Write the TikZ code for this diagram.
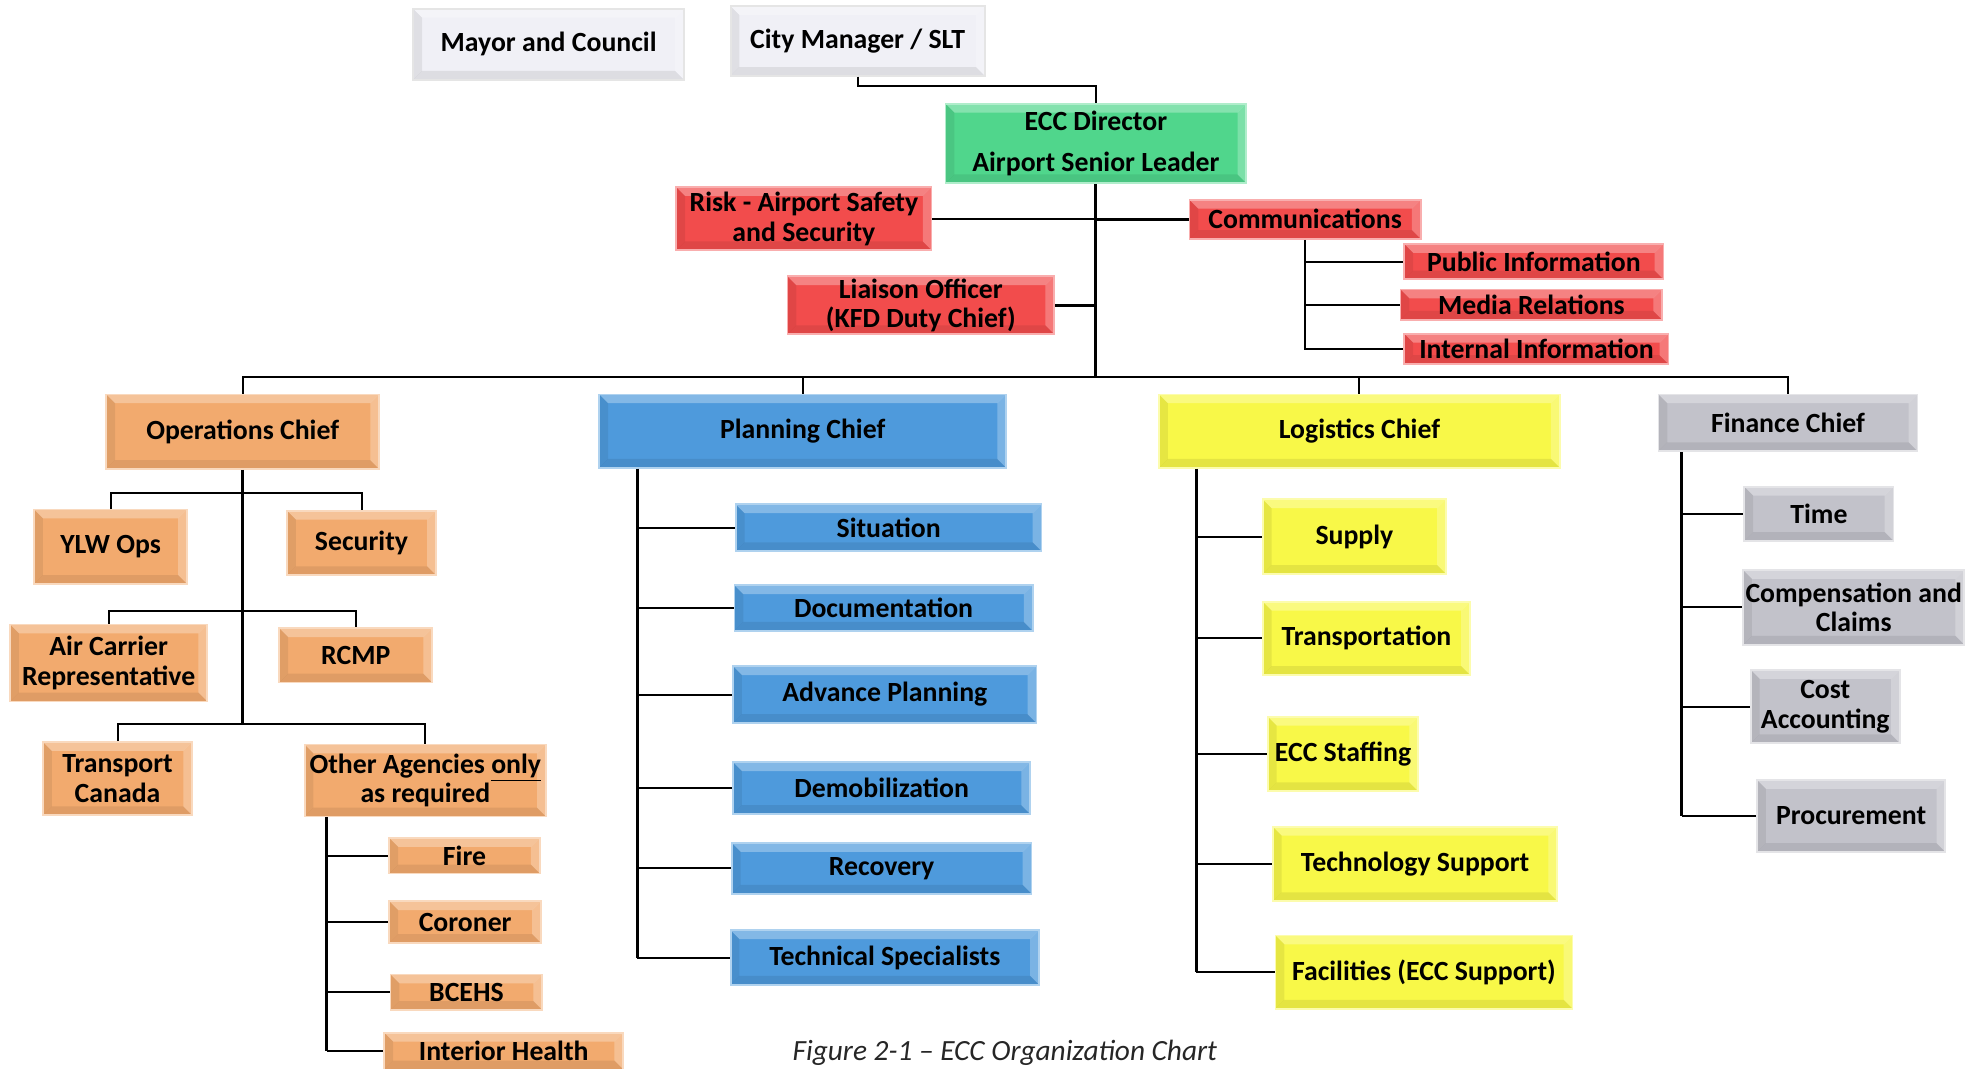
\documentclass[tikz,border=0pt]{standalone}
\usepackage{fontspec}
\setmainfont{Carlito}
\usepackage{tikz}
\usetikzlibrary{positioning,calc}
\usepackage{xcolor}
\definecolor{topc}{RGB}{240,240,246}
\definecolor{greenc}{RGB}{80,214,140}
\definecolor{redc}{RGB}{242,76,76}
\definecolor{orangec}{RGB}{242,170,110}
\definecolor{bluec}{RGB}{78,154,220}
\definecolor{yellowc}{RGB}{248,248,72}
\definecolor{greyc}{RGB}{194,194,202}
\tikzset{
  bevel/.style={
    path picture={
      \fill[white,opacity=.3] (path picture bounding box.north west) -- (path picture bounding box.north east)
        -- ([xshift=-1.4mm,yshift=-1.4mm]path picture bounding box.north east)
        -- ([xshift=1.4mm,yshift=-1.4mm]path picture bounding box.north west) -- cycle;
      \fill[white,opacity=.25] (path picture bounding box.north east) -- (path picture bounding box.south east)
        -- ([xshift=-1.4mm,yshift=1.4mm]path picture bounding box.south east)
        -- ([xshift=-1.4mm,yshift=-1.4mm]path picture bounding box.north east) -- cycle;
      \fill[black,opacity=.08] (path picture bounding box.south west) -- (path picture bounding box.south east)
        -- ([xshift=-1.4mm,yshift=1.4mm]path picture bounding box.south east)
        -- ([xshift=1.4mm,yshift=1.4mm]path picture bounding box.south west) -- cycle;
      \fill[black,opacity=.07] (path picture bounding box.north west) -- (path picture bounding box.south west)
        -- ([xshift=1.4mm,yshift=1.4mm]path picture bounding box.south west)
        -- ([xshift=1.4mm,yshift=-1.4mm]path picture bounding box.north west) -- cycle;
    }
  },
  box/.style={draw=#1!45!white, fill=#1, line width=.8pt, bevel, align=center,
    inner sep=1pt, font=\fontsize{12.5}{13.3}\selectfont\bfseries},
  wh/.style 2 args={minimum width=#1*0.2mm, minimum height=#2*0.2mm},
}

\begin{document}
\begin{tikzpicture}[
  x=0.2mm, y=-0.2mm,
  conn/.style={draw, line width=.9pt},
  trunk/.style={draw, line width=1.3pt}
]
\useasboundingbox (0,0) rectangle (1568,845);

% top of the chart
\node[box=topc, draw=black!10, wh={214}{56}] (mayor) at (434,35) {Mayor and Council};
\node[box=topc, draw=black!10, wh={201}{55}] (city) at (678.5,32.5) {City Manager / SLT};
\node[box=greenc, wh={238}{63}] (ecc) at (867,113.5) {ECC Director\\[5pt]Airport Senior Leader};
\node[box=redc, wh={202}{50}] (risk) at (636,173) {Risk - Airport Safety\\and Security};
\node[box=redc, wh={183}{31}] (comm) at (1032.5,173.5) {Communications};
\node[box=redc, wh={211}{43}] (liaison) at (728.5,241.5) {Liaison Officer\\(KFD Duty Chief)};
\node[box=redc, wh={205}{28}] (pubinfo) at (1213.5,207) {Public Information};
\node[box=redc, wh={207}{24}] (media) at (1211.5,241) {Media Relations};
\node[box=redc, wh={209}{24}] (internal) at (1215.5,276) {Internal Information};

% section chiefs
\node[box=orangec, wh={216}{59}] (ops) at (192,341.5) {Operations Chief};
\node[box=bluec, wh={322}{58}] (plan) at (635,341) {Planning Chief};
\node[box=yellowc, wh={317}{58}] (log) at (1075.5,341) {Logistics Chief};
\node[box=greyc, wh={205}{45}] (fin) at (1414.5,334.5) {Finance Chief};

% operations
\node[box=orangec, wh={121}{59}] (ylw) at (87.5,432.5) {YLW Ops};
\node[box=orangec, wh={118}{51}] (security) at (286,429.5) {Security};
\node[box=orangec, wh={156}{61}] (air) at (86,524.5) {Air Carrier\\Representative};
\node[box=orangec, wh={121}{43}] (rcmp) at (281.5,518.5) {RCMP};
\node[box=orangec, wh={118}{58}] (transport) at (93,616) {Transport\\Canada};
\node[box=orangec, wh={191}{57}] (other) at (336.5,617.5) {Other Agencies \underline{only}\\as required};
\node[box=orangec, wh={119}{28}] (fire) at (367.5,677) {Fire};
\node[box=orangec, wh={120}{33}] (coroner) at (368,729.5) {Coroner};
\node[box=orangec, wh={120}{28}] (bcehs) at (369,785) {BCEHS};
\node[box=orangec, wh={189}{29}] (interior) at (398.5,831.5) {Interior Health};

% planning
\node[box=bluec, wh={242}{37}] (situation) at (703,417.5) {Situation};
\node[box=bluec, wh={236}{36}] (docu) at (699,481) {Documentation};
\node[box=bluec, wh={240}{45}] (advance) at (700,549.5) {Advance Planning};
\node[box=bluec, wh={235}{41}] (demob) at (697.5,623.5) {Demobilization};
\node[box=bluec, wh={237}{40}] (recovery) at (697.5,687) {Recovery};
\node[box=bluec, wh={244}{43}] (techspec) at (700,757.5) {Technical Specialists};

% logistics
\node[box=yellowc, wh={145}{59}] (supply) at (1071.5,424.5) {Supply};
\node[box=yellowc, wh={164}{58}] (transp) at (1081,505) {Transportation};
\node[box=yellowc, wh={119}{59}] (staffing) at (1062.5,596.5) {ECC Staffing};
\node[box=yellowc, wh={225}{59}] (techsup) at (1119.5,683.5) {Technology Support};
\node[box=yellowc, wh={235}{58}] (facil) at (1126.5,769) {Facilities (ECC Support)};

% finance
\node[box=greyc, wh={118}{43}] (time) at (1439,406.5) {Time};
\node[box=greyc, wh={175}{59}] (comp) at (1466.5,480.5) {Compensation and\\Claims};
\node[box=greyc, wh={118}{58}] (cost) at (1444,559) {Cost\\Accounting};
\node[box=greyc, wh={149}{57}] (procure) at (1464.5,645.5) {Procurement};

\node[font=\fontsize{13.2}{14}\selectfont\itshape, text=black!85] (caption) at (795,833)
  {Figure 2-1 – ECC Organization Chart};

% connectors
\coordinate (bus) at (867,298);
\coordinate (opsA) at (192,390);
\coordinate (opsB) at (192,483);
\coordinate (opsC) at (192,573);
\coordinate (othertr) at ([xshift=3.6mm]other.south west);
\coordinate (plantr) at ([xshift=6.2mm]plan.south west);
\coordinate (logtr) at ([xshift=6mm]log.south west);
\coordinate (fintr) at ([xshift=3.8mm]fin.south west);

\draw[conn] (city.south) -- ++(0,7) -| (ecc.north);
\draw[trunk] (ecc.south) -- (bus);
\draw[conn] (risk.east) -- (risk.east -| ecc.south);
\draw[trunk] (comm.west) -- (comm.west -| ecc.south);
\draw[trunk] (liaison.east) -- (liaison.east -| ecc.south);
\draw[conn] (comm.south) |- (internal.west);
\draw[conn] (comm.south |- pubinfo.west) -- (pubinfo.west);
\draw[conn] (comm.south |- media.west) -- (media.west);

\draw[conn] (ops.north) |- (bus) -| (fin.north);
\draw[conn] (plan.north) -- (plan.north |- bus);
\draw[conn] (log.north) -- (log.north |- bus);

\draw[trunk] (ops.south) -- (opsC);
\draw[conn] (ylw.north) |- (opsA) -| (security.north);
\draw[conn] (air.north) |- (opsB) -| (rcmp.north);
\draw[conn] (transport.north) |- (opsC) -| (other.north);
\draw[trunk] (othertr) -- (othertr |- interior.west);
\foreach \n in {fire,coroner,bcehs,interior}
  \draw[conn] (othertr |- \n.west) -- (\n.west);

\draw[trunk] (plantr) -- (plantr |- techspec.west);
\foreach \n in {situation,docu,advance,demob,recovery,techspec}
  \draw[conn] (plantr |- \n.west) -- (\n.west);

\draw[trunk] (logtr) -- (logtr |- facil.west);
\foreach \n in {supply,transp,staffing,techsup,facil}
  \draw[conn] (logtr |- \n.west) -- (\n.west);

\draw[trunk] (fintr) -- (fintr |- procure.west);
\foreach \n in {time,comp,cost,procure}
  \draw[conn] (fintr |- \n.west) -- (\n.west);
\end{tikzpicture}
\end{document}
